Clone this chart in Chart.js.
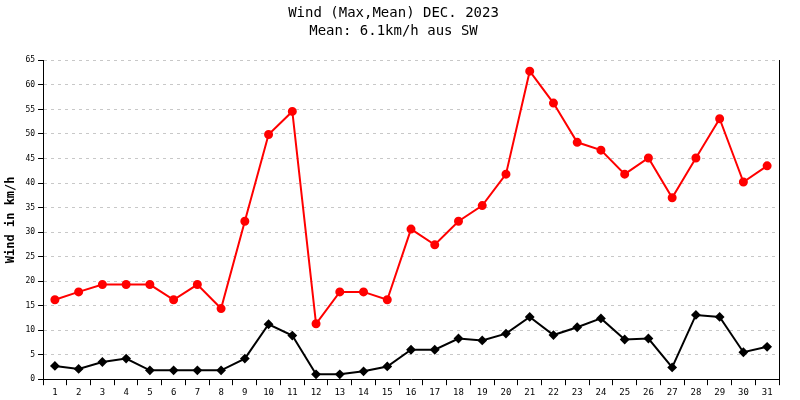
<!DOCTYPE html>
<html>
<head>
<meta charset="UTF-8">
<style>
  body { margin: 0; background: #fff; }
</style>
</head>
<body>
<canvas id="windChart" width="800" height="400"></canvas>
<script src="https://cdn.jsdelivr.net/npm/chart.js@4.4.0/dist/chart.umd.min.js"></script>
<script>
const days = Array.from({ length: 31 }, (_, i) => String(i + 1));
const windMax = [16.2, 17.8, 19.3, 19.3, 19.3, 16.2, 19.3, 14.4, 32.2, 49.9, 54.6, 11.3, 17.8, 17.8, 16.2, 30.6,
  27.4, 32.2, 35.4, 41.8, 62.8, 56.3, 48.3, 46.7, 41.8, 45.1, 37.0, 45.1, 53.1, 40.2, 43.5];
const windMean = [2.7, 2.1, 3.5, 4.2, 1.8, 1.8, 1.8, 1.8, 4.2, 11.2, 8.9, 1.0, 1.0, 1.6, 2.6, 6.0,
  6.0, 8.3, 7.9, 9.3, 12.7, 9.0, 10.6, 12.4, 8.1, 8.3, 2.4, 13.1, 12.7, 5.5, 6.6];

const mono = 'DejaVu Sans Mono';

new Chart(document.getElementById('windChart'), {
  type: 'line',
  data: {
    labels: days,
    datasets: [
      { label: 'Max', data: windMax, borderColor: '#ff0000', backgroundColor: '#ff0000',
        borderWidth: 2, pointRadius: 3.5, pointStyle: 'circle', tension: 0 },
      { label: 'Mean', data: windMean, borderColor: '#000000', backgroundColor: '#000000',
        borderWidth: 2, pointRadius: 3.5, pointStyle: 'rectRot', tension: 0 }
    ]
  },
  options: {
    responsive: false,
    animation: false,
    layout: { padding: { right: 13, left: 0, bottom: 0 } },
    plugins: {
      legend: { display: false },
      tooltip: { enabled: false },
      title: {
        display: true,
        text: ['Wind (Max,Mean) DEC. 2023', 'Mean: 6.1km/h aus SW'],
        color: '#000',
        font: { family: mono, size: 14, weight: 'normal', lineHeight: 1.3 },
        padding: { top: 4, bottom: 20 }
      }
    },
    scales: {
      x: {
        offset: true,
        grid: { display: true, drawOnChartArea: false, offset: true, color: '#000', tickLength: 6 },
        border: { color: '#000', width: 1 },
        ticks: { color: '#000', font: { family: mono, size: 9 }, maxRotation: 0, autoSkip: false, padding: 2 }
      },
      y: {
        min: 0, max: 65,
        title: { display: true, text: 'Wind in km/h', color: '#000', font: { family: mono, size: 12, weight: 'bold' } },
        grid: { color: '#c8c8c8', tickColor: '#000', tickLength: 5, tickBorderDash: [] },
        border: { color: '#000', width: 1, dash: [3, 4] },
        ticks: { stepSize: 5, color: '#000', font: { family: mono, size: 8 }, padding: 3, autoSkip: false }
      },
      y2: {
        position: 'right', min: 0, max: 65,
        grid: { display: false },
        border: { color: '#000', width: 1 },
        ticks: { display: false }
      }
    }
  }
});
</script>
</body>
</html>
